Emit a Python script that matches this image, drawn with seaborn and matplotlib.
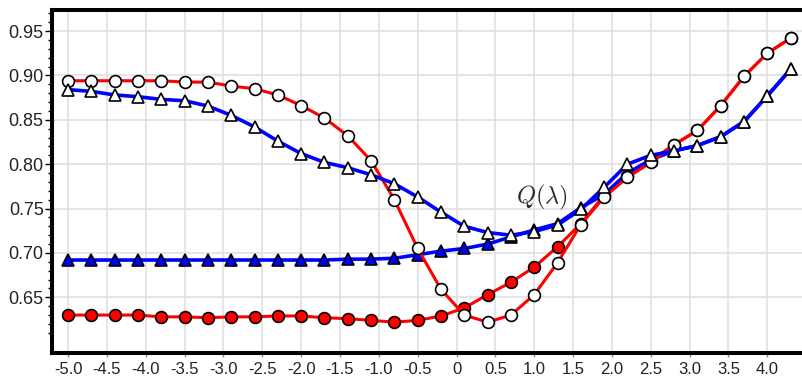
import numpy as np
import pandas as pd
import seaborn as sns
import matplotlib.pyplot as plt

# data
lam = [-5.0, -4.7, -4.4, -4.1, -3.8, -3.5, -3.2, -2.9, -2.6, -2.3, -2.0, -1.7,
       -1.4, -1.1, -0.8, -0.5, -0.2, 0.1, 0.4, 0.7, 1.0, 1.3, 1.6, 1.9,
       2.2, 2.5, 2.8, 3.1, 3.4, 3.7, 4.0, 4.3]
red_open = [0.894, 0.894, 0.894, 0.894, 0.894, 0.8925, 0.8925, 0.888, 0.885, 0.878,
            0.866, 0.852, 0.832, 0.804, 0.760, 0.705, 0.659, 0.630, 0.622, 0.630,
            0.653, 0.689, 0.732, 0.763, 0.785, 0.802, 0.822, 0.838, 0.866, 0.899,
            0.925, 0.942]
red_filled = [0.630, 0.630, 0.630, 0.630, 0.628, 0.628, 0.627, 0.628, 0.628, 0.629,
              0.629, 0.627, 0.626, 0.624, 0.622, 0.624, 0.629, 0.638, 0.653, 0.667,
              0.684, 0.707, 0.733, 0.765, 0.787, 0.804, 0.822, 0.838, 0.866, 0.899,
              0.925, 0.942]
blue_open = [0.884, 0.882, 0.878, 0.876, 0.873, 0.8715, 0.8655, 0.855, 0.842, 0.826,
             0.812, 0.802, 0.796, 0.788, 0.778, 0.763, 0.746, 0.730, 0.723, 0.720,
             0.724, 0.7315, 0.749, 0.774, 0.800, 0.810, 0.815, 0.821, 0.831, 0.848,
             0.877, 0.907]
blue_filled = [0.692, 0.692, 0.692, 0.692, 0.692, 0.692, 0.692, 0.692, 0.692, 0.692,
               0.692, 0.692, 0.693, 0.693, 0.694, 0.698, 0.702, 0.705, 0.710, 0.718,
               0.726, 0.733, 0.751, 0.766, 0.790, 0.805, 0.815, 0.821, 0.831, 0.848,
               0.877, 0.907]

xtick_vals = [-5.0, -4.5, -4.0, -3.5, -3.0, -2.5, -2.0, -1.5, -1.0, -0.5, 0.0,
              0.5, 1.0, 1.5, 2.0, 2.5, 3.0, 3.5, 4.0]
xtick_labels = ['-5.0', '-4.5', '-4.0', '-3.5', '-3.0', '-2.5', '-2.0', '-1.5', '-1.0',
                '-0.5', '0', '0.5', '1.0', '1.5', '2.0', '2.5', '3.0', '3.5', '4.0']
ytick_vals = [0.65, 0.70, 0.75, 0.80, 0.85, 0.90, 0.95]

sns.set_style("white")
plt.rcParams['font.family'] = ['Liberation Sans', 'DejaVu Sans']
plt.rcParams['mathtext.fontset'] = 'cm'

fig = plt.figure(figsize=(8.03, 3.79), dpi=100)
ax = fig.add_axes([0.0648, 0.0694, 0.9352, 0.9042])

# draw order: filled red, filled blue, open red, open blue
sns.lineplot(x=lam, y=red_filled, color='#ff0000', lw=2.2, marker='o', markersize=8.5,
             markerfacecolor='#ff0000', markeredgecolor='black', markeredgewidth=1.2,
             ax=ax, zorder=3)
sns.lineplot(x=lam, y=blue_filled, color='#0000ff', lw=2.6, marker='^', markersize=9,
             markerfacecolor='#0000ff', markeredgecolor='black', markeredgewidth=1.2,
             ax=ax, zorder=3)
sns.lineplot(x=lam, y=red_open, color='#ff0000', lw=2.2, marker='o', markersize=8.5,
             markerfacecolor='white', markeredgecolor='black', markeredgewidth=1.2,
             ax=ax, zorder=4)
sns.lineplot(x=lam, y=blue_open, color='#0000ff', lw=2.6, marker='^', markersize=9,
             markerfacecolor='white', markeredgecolor='black', markeredgewidth=1.2,
             ax=ax, zorder=4)

ax.text(1.10, 0.762, r'$Q(\lambda)$', fontsize=17.5, color='#2a2a2a',
        ha='center', va='center', zorder=5)

ax.set_xlim(-5.206, 4.459)
ax.set_ylim(0.5876, 0.9737)
ax.set_xticks(xtick_vals)
ax.set_xticklabels(xtick_labels)
ax.set_yticks(ytick_vals)
ax.set_yticklabels([f'{v:.2f}' for v in ytick_vals])
ax.set_yticks(np.round(np.arange(0.61, 0.975, 0.01), 2), minor=True)

ax.grid(True, which='major', color='#e0e0e0', lw=1.2, zorder=0)
ax.set_axisbelow(True)

for s in ['left', 'bottom', 'top']:
    ax.spines[s].set_linewidth(2.9)
    ax.spines[s].set_color('black')
ax.spines['right'].set_visible(False)

ax.tick_params(axis='y', which='major', direction='out', length=5, width=1,
               color='black', pad=1, labelsize=13, labelcolor='#222222', left=True)
ax.tick_params(axis='y', which='minor', direction='out', length=3, width=1,
               color='black', left=True)
ax.tick_params(axis='x', which='major', direction='out', length=3, width=1,
               color='#888888', pad=4, labelsize=12, labelcolor='#222222', bottom=True)
ax.set_xlabel('')
ax.set_ylabel('')

plt.savefig('out.png', dpi=100)
